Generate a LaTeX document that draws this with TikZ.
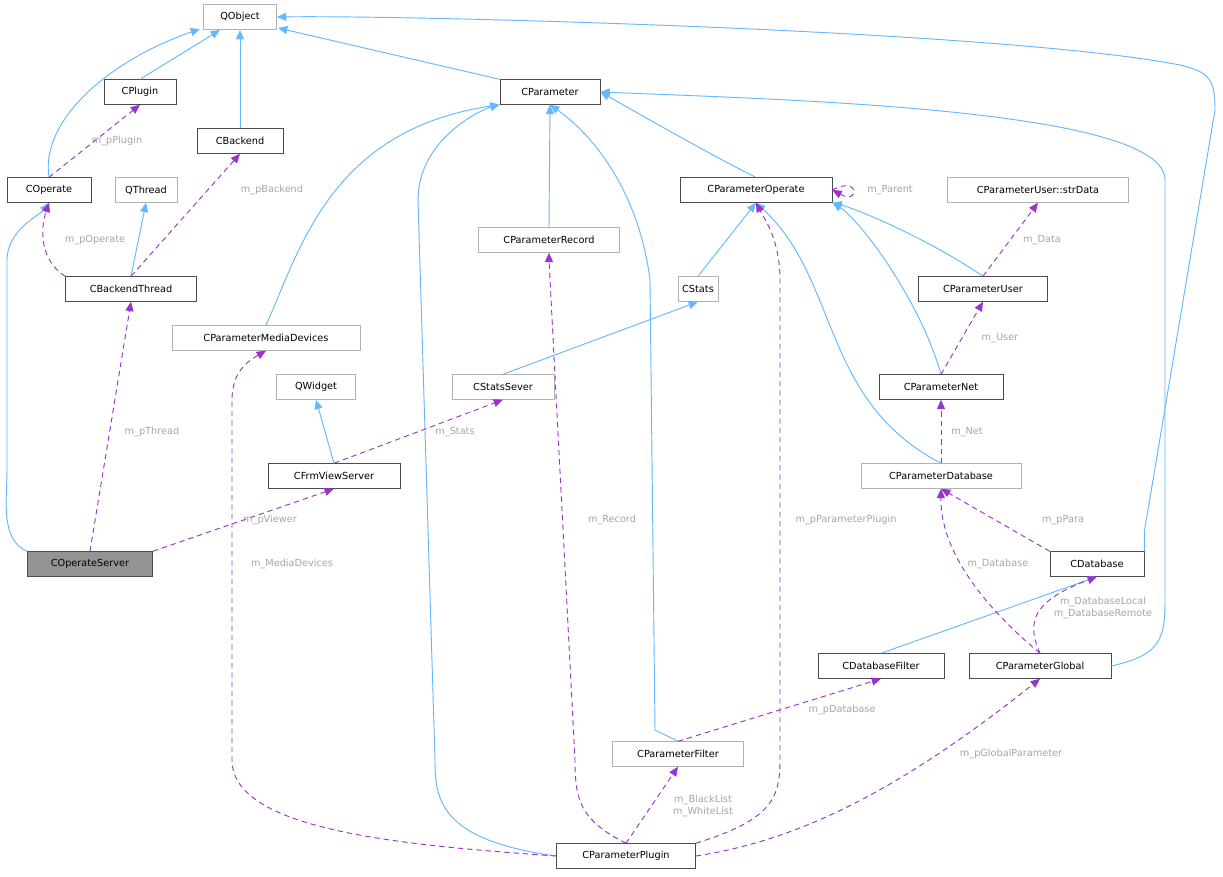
\documentclass[tikz,border=0pt]{standalone}
\usepackage{fontspec}
\setmainfont{DejaVu Sans}
\usetikzlibrary{arrows.meta}
\begin{document}
\begin{tikzpicture}[x=0.75pt,y=-0.75pt,
 box/.style={draw=black!70,fill=white,font=\fontsize{7.3}{8}\selectfont,inner sep=0pt,minimum height=18.5pt,anchor=center,line width=0.6pt},
 gbox/.style={box,draw=black!30},
 inh/.style={color={rgb,255:red,99;green,184;blue,255},line width=0.7pt,-{Triangle[length=7pt,width=6pt]}},
 use/.style={color={rgb,255:red,154;green,50;blue,205},dashed,dash pattern=on 4pt off 3pt,line width=0.7pt,-{Triangle[length=7pt,width=6pt]}},
 lab/.style={text=black!35,font=\fontsize{7.3}{8.5}\selectfont,align=center,inner sep=1pt}]
\useasboundingbox (0,0) rectangle (1223,876);
\fill[white] (0,0) rectangle (1223,876);
\def\B#1#2#3#4#5{\node[#1,minimum width=#4*0.75pt] (#2) at (#3) {#5};}
\B{gbox}{qo}{240,17}{73}{QObject}
\B{box}{cpl}{140,92}{72}{CPlugin}
\B{box}{cbk}{240,141}{86}{CBackend}
\B{box}{cop}{49,190}{84}{COperate}
\B{gbox}{qth}{146,190}{62}{QThread}
\B{box}{cbt}{131,289}{131}{CBackendThread}
\B{box}{cpa}{550,92}{100}{CParameter}
\B{box}{cpo}{756,190}{152}{CParameterOperate}
\B{gbox}{csd}{1038,190}{181}{CParameterUser::strData}
\B{gbox}{cpr}{549,240}{141}{CParameterRecord}
\B{gbox}{cst}{698,289}{40}{CStats}
\B{box}{cpu}{983,289}{129}{CParameterUser}
\B{gbox}{cmd}{266,338}{188}{CParameterMediaDevices}
\B{gbox}{qwi}{316,387}{79}{QWidget}
\B{gbox}{css}{503,387}{102}{CStatsSever}
\B{box}{cpn}{941,387}{124}{CParameterNet}
\B{box}{cfv}{334,476}{132}{CFrmViewServer}
\B{gbox}{cpd}{941,476}{160}{CParameterDatabase}
\node[box,fill=black!42,minimum width=125*0.75pt] (cos) at (90,564) {COperateServer};
\B{box}{cdb}{1097,564}{94}{CDatabase}
\B{box}{cdf}{881,666}{126}{CDatabaseFilter}
\B{box}{cpg}{1040,666}{142}{CParameterGlobal}
\B{gbox}{cpf}{678,754}{131}{CParameterFilter}
\B{box}{cpp}{626,856}{139}{CParameterPlugin}
\coordinate (q1) at (200,29);
\coordinate (q2) at (220,30);
\coordinate (q3) at (240,30);
\coordinate (q4) at (278,28);
% inheritance
\draw[inh] (cpl.north) -- (q2);
\draw[inh] (cbk.north) -- (q3);
\draw[inh] (cop.north) .. controls (40,120) and (110,60) .. (q1);
\draw[inh] (cpa.north west) -- (q4);
\draw[inh] (cdb.north east) -- ++(0,-20) -- (1215,110) .. controls (1215,80) and (1210,72) .. (1180,65) .. controls (1000,30) and (400,15) .. (qo.east);
\draw[inh] (cpo.north) .. controls (720,160) and (650,120) .. (cpa.east);
\draw[inh] (cpr.north) -- (cpa.south);
\draw[inh] (cmd.north) .. controls (300,250) and (330,130) .. (cpa.south west);
\draw[inh] (cpp.west) .. controls (440,840) and (435,800) .. (435,760) -- (418,200) .. controls (418,140) and (480,110) .. (cpa.south west);
\draw[inh] (cpf.north) -- (655,730) -- (650,280) .. controls (640,200) and (600,140) .. (cpa.south);
\draw[inh] (cpg.east) .. controls (1160,655) and (1165,640) .. (1165,600) -- (1165,180) .. controls (1165,110) and (800,100) .. (cpa.east);
\draw[inh] (cst.north) -- (cpo.south);
\draw[inh] (cpu.north) .. controls (930,240) and (860,210) .. (cpo.south east);
\draw[inh] (cpn.north) .. controls (920,300) and (860,220) .. (cpo.south east);
\draw[inh] (cpd.north) .. controls (820,400) and (840,280) .. (cpo.south);
\draw[inh] (cbt.north) -- (qth.south);
\draw[inh] (cfv.north) -- (qwi.south);
\draw[inh] (css.north) -- (cst.south);
\draw[inh] (cos.north west) .. controls (0,540) and (7,500) .. (7,470) -- (7,260) .. controls (7,230) and (40,215) .. (cop.south);
\draw[inh] (cdf.north) -- (cdb.south);
% usage
\draw[use] (cop.north) -- (cpl.south);
\node[lab] at (117,141) {m\_pPlugin};
\draw[use] (cbt.north) -- (cbk.south);
\node[lab] at (272,190) {m\_pBackend};
\draw[use] (cbt.north west) .. controls (40,260) and (40,230) .. (cop.south);
\node[lab] at (95,240) {m\_pOperate};
\draw[use] (cos.north) -- (cbt.south);
\node[lab] at (152,432) {m\_pThread};
\draw[use] (cos.north east) -- (cfv.south);
\node[lab] at (270,520) {m\_pViewer};
\draw[use] (cfv.north) -- (css.south);
\node[lab] at (455,432) {m\_Stats};
\draw[use] (cpo.east) .. controls (860,175) and (860,205) .. (cpo.east);
\node[lab] at (890,190) {m\_Parent};
\draw[use] (cpu.north) -- (csd.south);
\node[lab] at (1042,240) {m\_Data};
\draw[use] (cpn.north) -- (cpu.south);
\node[lab] at (1000,338) {m\_User};
\draw[use] (cpd.north) -- (cpn.south);
\node[lab] at (967,432) {m\_Net};
\draw[use] (cdb.north west) -- (cpd.south);
\node[lab] at (1063,520) {m\_pPara};
\draw[use] (cpg.north) .. controls (1000,620) and (940,560) .. (cpd.south);
\node[lab] at (998,564) {m\_Database};
\draw[use] (cpg.north) .. controls (1025,620) and (1035,600) .. (cdb.south);
\node[lab] at (1103,608) {m\_DatabaseLocal\\m\_DatabaseRemote};
\draw[use] (cpf.north) -- (cdf.south);
\node[lab] at (842,710) {m\_pDatabase};
\draw[use] (cpp.north) -- (cpf.south);
\node[lab] at (703,806) {m\_BlackList\\m\_WhiteList};
\draw[use] (cpp.east) .. controls (800,840) and (900,790) .. (cpg.south);
\node[lab] at (1011,754) {m\_pGlobalParameter};
\draw[use] (cpp.north east) .. controls (770,820) and (780,800) .. (780,760) -- (780,280) .. controls (780,240) and (765,220) .. (cpo.south);
\node[lab] at (846,520) {m\_pParameterPlugin};
\draw[use] (cpp.north) .. controls (580,820) and (575,800) .. (575,760) -- (549,260) -- (cpr.south);
\node[lab] at (612,520) {m\_Record};
\draw[use] (cpp.west) .. controls (400,845) and (232,830) .. (232,760) -- (232,400) .. controls (232,370) and (250,360) .. (cmd.south);
\node[lab] at (292,564) {m\_MediaDevices};
\end{tikzpicture}
\end{document}
